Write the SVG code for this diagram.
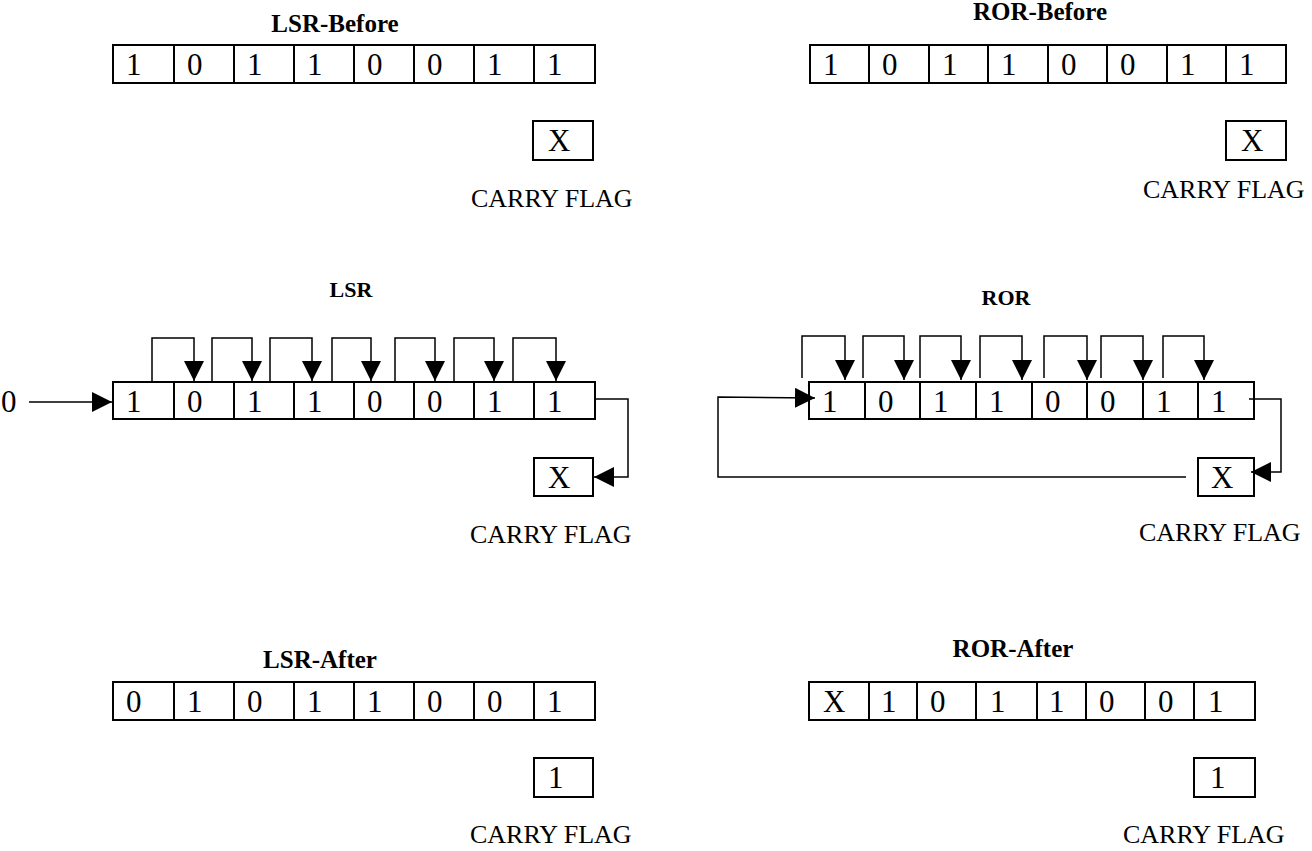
<svg xmlns="http://www.w3.org/2000/svg" width="1312" height="851" viewBox="0 0 1312 851">
<style>
.reg{fill:none;stroke:#000;stroke-width:2}
.d{font-family:"Liberation Serif","Times New Roman",serif;font-size:31px;fill:#000}
.cf{font-family:"Liberation Serif","Times New Roman",serif;font-size:26px;fill:#000}
.t{font-family:"Liberation Serif","Times New Roman",serif;font-size:25px;font-weight:bold;fill:#000;text-anchor:middle}
.t2{font-family:"Liberation Serif","Times New Roman",serif;font-size:22px;font-weight:bold;fill:#000;text-anchor:middle}
.ln{fill:none;stroke:#000;stroke-width:1.5}
</style>
<defs>
<marker id="ah" viewBox="0 0 20 20" refX="20" refY="10" markerWidth="20" markerHeight="20" markerUnits="userSpaceOnUse" orient="auto"><path d="M0,0 L20,10 L0,20 z" fill="#000"/></marker>
</defs>
<rect width="1312" height="851" fill="#fff"/>

<g id="titles">
<text class="t" x="335" y="32">LSR-Before</text>
<text class="t" x="1040" y="20">ROR-Before</text>
<text class="t2" x="351" y="297">LSR</text>
<text class="t2" x="1006" y="305">ROR</text>
<text class="t" x="320" y="668">LSR-After</text>
<text class="t" x="1013" y="657">ROR-After</text>
</g>

<g id="lsr-before-reg">
<rect class="reg" x="113" y="45" width="482" height="38"/>
<path class="reg" d="M174,45V83M234,45V83M294,45V83M354,45V83M414,45V83M474,45V83M534,45V83"/>
<text class="d" x="126" y="75">1</text><text class="d" x="187" y="75">0</text><text class="d" x="247" y="75">1</text><text class="d" x="307" y="75">1</text>
<text class="d" x="367" y="75">0</text><text class="d" x="427" y="75">0</text><text class="d" x="487" y="75">1</text><text class="d" x="547" y="75">1</text>
</g>
<g id="lsr-before-carry">
<rect class="reg" x="533" y="121" width="60" height="39"/>
<text class="d" x="548" y="151">X</text>
<text class="cf" x="471" y="207">CARRY FLAG</text>
</g>

<g id="ror-before-reg">
<rect class="reg" x="810" y="45" width="476" height="38"/>
<path class="reg" d="M869,45V83M929,45V83M988,45V83M1048,45V83M1107,45V83M1167,45V83M1226,45V83"/>
<text class="d" x="823" y="75">1</text><text class="d" x="882" y="75">0</text><text class="d" x="942" y="75">1</text><text class="d" x="1001" y="75">1</text>
<text class="d" x="1061" y="75">0</text><text class="d" x="1120" y="75">0</text><text class="d" x="1180" y="75">1</text><text class="d" x="1239" y="75">1</text>
</g>
<g id="ror-before-carry">
<rect class="reg" x="1226" y="121" width="60" height="39"/>
<text class="d" x="1241" y="151">X</text>
<text class="cf" x="1143" y="198">CARRY FLAG</text>
</g>

<g id="lsr-zero">
<text class="d" x="1" y="412">0</text>
</g>
<g id="lsr-reg">
<rect class="reg" x="113" y="382" width="482" height="37"/>
<path class="reg" d="M174,382V419M234,382V419M294,382V419M354,382V419M414,382V419M474,382V419M534,382V419"/>
<text class="d" x="126" y="412">1</text><text class="d" x="187" y="412">0</text><text class="d" x="247" y="412">1</text><text class="d" x="307" y="412">1</text>
<text class="d" x="367" y="412">0</text><text class="d" x="427" y="412">0</text><text class="d" x="487" y="412">1</text><text class="d" x="547" y="412">1</text>
</g>
<g id="lsr-carry">
<rect class="reg" x="534" y="458" width="59" height="38"/>
<text class="d" x="548" y="488">X</text>
<text class="cf" x="470" y="543">CARRY FLAG</text>
</g>

<g id="ror-reg">
<rect class="reg" x="809" y="382" width="445" height="37"/>
<path class="reg" d="M865,382V419M920,382V419M976,382V419M1032,382V419M1087,382V419M1143,382V419M1198,382V419"/>
<text class="d" x="822" y="412">1</text><text class="d" x="878" y="412">0</text><text class="d" x="933" y="412">1</text><text class="d" x="989" y="412">1</text>
<text class="d" x="1045" y="412">0</text><text class="d" x="1100" y="412">0</text><text class="d" x="1156" y="412">1</text><text class="d" x="1211" y="412">1</text>
</g>
<g id="ror-carry">
<rect class="reg" x="1198" y="458" width="56" height="38"/>
<text class="d" x="1211" y="488">X</text>
<text class="cf" x="1139" y="541">CARRY FLAG</text>
</g>

<g id="lsr-after-reg">
<rect class="reg" x="113" y="682" width="482" height="38"/>
<path class="reg" d="M174,682V720M234,682V720M294,682V720M354,682V720M414,682V720M474,682V720M534,682V720"/>
<text class="d" x="126" y="712">0</text><text class="d" x="187" y="712">1</text><text class="d" x="247" y="712">0</text><text class="d" x="307" y="712">1</text>
<text class="d" x="367" y="712">1</text><text class="d" x="427" y="712">0</text><text class="d" x="487" y="712">0</text><text class="d" x="547" y="712">1</text>
</g>
<g id="lsr-after-carry">
<rect class="reg" x="534" y="758" width="59" height="39"/>
<text class="d" x="548" y="788">1</text>
<text class="cf" x="470" y="843">CARRY FLAG</text>
</g>

<g id="ror-after-reg">
<rect class="reg" x="809" y="682" width="446" height="38"/>
<path class="reg" d="M869,682V720M917,682V720M976,682V720M1037,682V720M1086,682V720M1145,682V720M1194,682V720"/>
<text class="d" x="823" y="712">X</text><text class="d" x="881" y="712">1</text><text class="d" x="930" y="712">0</text><text class="d" x="990" y="712">1</text>
<text class="d" x="1049" y="712">1</text><text class="d" x="1099" y="712">0</text><text class="d" x="1158" y="712">0</text><text class="d" x="1208" y="712">1</text>
</g>
<g id="ror-after-carry">
<rect class="reg" x="1194" y="758" width="61" height="39"/>
<text class="d" x="1210" y="788">1</text>
<text class="cf" x="1123" y="843">CARRY FLAG</text>
</g>

<g id="connectors" class="ln">
<path d="M29,402H112" marker-end="url(#ah)"/>
<path d="M152,382V338H194V381" marker-end="url(#ah)"/>
<path d="M212,382V338H252V381" marker-end="url(#ah)"/>
<path d="M270,382V338H312V381" marker-end="url(#ah)"/>
<path d="M332,382V338H371V381" marker-end="url(#ah)"/>
<path d="M395,382V338H435V381" marker-end="url(#ah)"/>
<path d="M454,382V338H494V381" marker-end="url(#ah)"/>
<path d="M513,382V338H556V381" marker-end="url(#ah)"/>
<path d="M595,399H628V477H594" marker-end="url(#ah)"/>
<path d="M802,378V336H845V380" marker-end="url(#ah)"/>
<path d="M863,378V336H904V380" marker-end="url(#ah)"/>
<path d="M920,378V336H961V380" marker-end="url(#ah)"/>
<path d="M980,378V336H1022V380" marker-end="url(#ah)"/>
<path d="M1044,378V336H1087V380" marker-end="url(#ah)"/>
<path d="M1101,378V336H1143V380" marker-end="url(#ah)"/>
<path d="M1163,378V336H1204V380" marker-end="url(#ah)"/>
<path d="M1249,399H1281V472H1251" marker-end="url(#ah)"/>
<path d="M1186,477H718V397L815,398" marker-end="url(#ah)"/>
</g>
</svg>
